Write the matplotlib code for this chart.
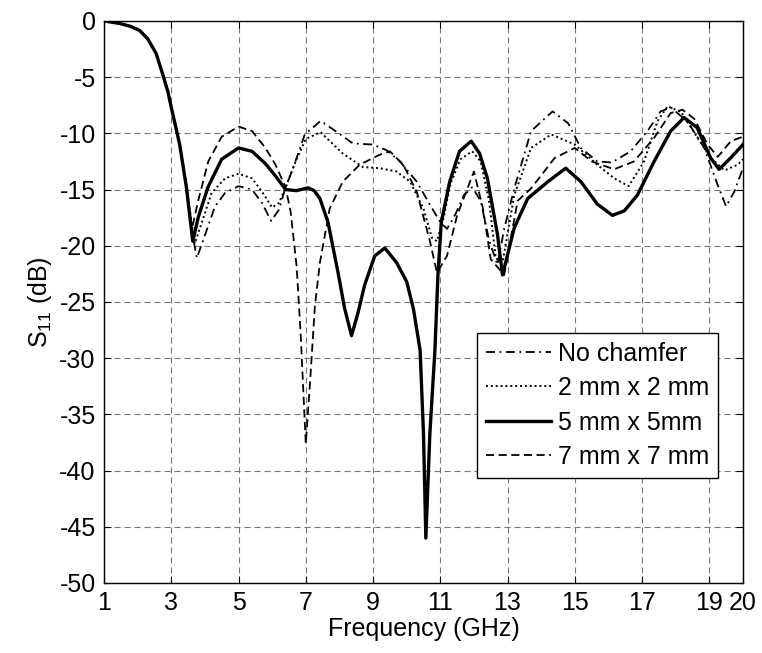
import matplotlib
matplotlib.use('Agg')
import matplotlib.pyplot as plt

plt.rcParams['font.family'] = ['Liberation Sans', 'DejaVu Sans']
plt.rcParams['mathtext.default'] = 'regular'
plt.rcParams['axes.unicode_minus'] = False
plt.rcParams['font.size'] = 18

# ---- data (frequency in GHz, S11 in dB) ----
# all four curves share the same roll-off below ~3.3 GHz
f_start = [1, 1.5, 1.8, 2.06, 2.3, 2.55, 2.75, 2.9, 3.0, 3.1, 3.25]
s_start = [0, -0.25, -0.5, -0.85, -1.6, -2.9, -4.8, -6.3, -7.7, -9.0, -11]

f_none = f_start + [3.45, 3.6, 3.76, 3.95, 4.3, 4.6, 5.0, 5.4, 5.7, 5.97, 6.2, 6.38,
                    6.62, 6.97, 7.44, 7.91, 8.4, 9.0, 9.4, 9.8, 10.3, 10.7, 11.0,
                    11.2, 11.45, 11.7, 11.95, 12.2, 12.45, 12.7, 12.9, 13.2, 13.7,
                    14.34, 14.8, 15.18, 15.67, 16.1, 16.66, 17.16, 17.55, 17.86,
                    18.36, 18.85, 19.25, 19.5, 19.74, 20]
s_none = s_start + [-14.8, -18.5, -21.1, -19.5, -16.5, -15.3, -14.7, -15, -16.2,
                    -17.8, -16.8, -15, -13.1, -10.1, -8.9, -9.85, -10.9, -11.0,
                    -11.5, -12.5, -14.3, -16.4, -17.9, -18.5, -17.2, -15.5, -14.8,
                    -16, -19.5, -21.7, -18.5, -14.9, -9.8, -8.05, -9.1, -11.3,
                    -12.5, -12.6, -11.6, -9.8, -8.05, -7.7, -9.0, -11.3, -14.6,
                    -16.5, -15.2, -13.1]

f_2mm = f_start + [3.45, 3.7, 3.9, 4.2, 4.6, 5.0, 5.4, 5.7, 6.0, 6.2, 6.4, 6.7, 7.0,
                   7.44, 8.1, 8.7, 9.2, 9.7, 10.1, 10.5, 10.75, 10.9, 11.1, 11.3,
                   11.6, 11.95, 12.2, 12.45, 12.65, 12.85, 13.2, 13.7, 14.3, 15.0,
                   15.67, 16.17, 16.6, 17.06, 17.46, 17.76, 18.16, 18.65, 19.05,
                   19.45, 19.84, 20]
s_2mm = s_start + [-14.8, -19.8, -18, -15.3, -14, -13.6, -14, -15.2, -16.6, -16.2,
                   -14.8, -12.5, -10.5, -9.9, -11.8, -13.0, -13.1, -13.4, -14.3,
                   -16.7, -19.3, -19.6, -17.5, -14.5, -12.3, -11.6, -12.5, -16,
                   -21.1, -21.5, -15.5, -11.3, -10.1, -11.0, -12.8, -14.0, -14.7,
                   -12.5, -8.9, -7.6, -8.1, -10.4, -12.2, -13.3, -12.8, -12.3]

f_5mm = f_start + [3.45, 3.64, 3.8, 4.09, 4.5, 5.0, 5.4, 5.8, 6.1, 6.4, 6.72, 7.07,
                   7.25, 7.42, 7.66, 7.96, 8.15, 8.36, 8.55, 8.75, 9.05, 9.35, 9.7,
                   10.0, 10.2, 10.4, 10.5, 10.57, 10.69, 10.84, 10.93, 11.03, 11.28,
                   11.57, 11.92, 12.17, 12.4, 12.7, 12.85, 13.2, 13.6, 14.2, 14.73,
                   15.18, 15.67, 16.12, 16.47, 16.86, 17.36, 17.85, 18.25, 18.64,
                   19.04, 19.29, 19.63, 20]
s_5mm = s_start + [-14.8, -19.6, -17.5, -14.8, -12.3, -11.3, -11.6, -12.7, -13.8,
                   -15.0, -15.1, -14.85, -15.1, -15.8, -17.9, -22.4, -25.5, -28.0,
                   -26, -23.5, -20.9, -20.2, -21.5, -23.2, -25.6, -29.3, -36.7,
                   -46.0, -36.7, -29.3, -22.6, -17.9, -14.3, -11.6, -10.7, -11.8,
                   -14.0, -19.0, -22.6, -18.4, -15.8, -14.3, -13.1, -14.3, -16.3,
                   -17.3, -16.9, -15.5, -12.5, -9.8, -8.6, -9.5, -12.2, -13.2,
                   -12.2, -11.0]

f_7mm = f_start + [3.45, 3.6, 3.8, 4.1, 4.5, 5.0, 5.4, 5.8, 6.1, 6.4, 6.55, 6.73,
                   6.85, 7.0, 7.13, 7.27, 7.42, 7.71, 8.1, 8.6, 9.2, 9.5, 9.9, 10.3,
                   10.7, 10.9, 11.2, 11.5, 12.0, 12.27, 12.5, 12.9, 13.3, 13.7, 14.4,
                   15.0, 15.5, 16.17, 16.76, 17.36, 17.85, 18.2, 18.55, 18.95, 19.25,
                   19.64, 20]
s_7mm = s_start + [-14.5, -18.7, -16, -12.5, -10.3, -9.4, -9.8, -11.3, -12.8, -14.8,
                   -17, -21.9, -28, -37.6, -32, -25.4, -21.5, -16.7, -14.3, -12.8,
                   -11.9, -11.6, -12.8, -15.2, -19.7, -22.4, -20.9, -17.3, -13.4,
                   -16.7, -21.2, -22.6, -16, -14.9, -12.2, -11.3, -12.5, -13.2,
                   -12.5, -10.4, -8.2, -7.9, -8.7, -11, -12.1, -10.7, -10.3]

labels = ['No chamfer', '2 mm x 2 mm', '5 mm x 5mm', '7 mm x 7 mm']
x_ticks = [1, 3, 5, 7, 9, 11, 13, 15, 17, 19, 20]
y_ticks = list(range(-50, 1, 5))

fig = plt.figure(figsize=(7.62, 6.53), dpi=100)
ax = fig.add_axes([0.1365, 0.1072, 0.8385, 0.8608])

ax.plot(f_none, s_none, color='black', lw=1.3, linestyle=(0, (5, 2.5, 1, 2.5)), label=labels[0])
ax.plot(f_2mm, s_2mm, color='black', lw=1.4, linestyle=(0, (1, 1.5)), label=labels[1])
ax.plot(f_5mm, s_5mm, color='black', lw=2.4, linestyle='-', label=labels[2])
ax.plot(f_7mm, s_7mm, color='black', lw=1.3, linestyle=(0, (4.5, 2.5)), label=labels[3])

ax.set_xlim(1, 20)
ax.set_ylim(-50, 0)
ax.set_xticks(x_ticks)
ax.set_yticks(y_ticks)
ax.grid(True, color='#777777', lw=0.8, linestyle=(0, (5.5, 3.5)))
ax.tick_params(direction='in', length=5, width=0.8, top=True, right=True, pad=6)
for sp in ax.spines.values():
    sp.set_linewidth(1.0)

ax.set_xlabel('Frequency (GHz)', labelpad=1)
ax.set_ylabel('S$_{11}$ (dB)', labelpad=4)

leg = ax.legend(loc='lower right', bbox_to_anchor=(0.961, 0.187), borderaxespad=0,
                fancybox=False, framealpha=1, edgecolor='black', handlelength=2.6,
                handletextpad=0.3, labelspacing=0.42, borderpad=0.35)
leg.get_frame().set_linewidth(1.0)

fig.savefig('out.png', dpi=100)
